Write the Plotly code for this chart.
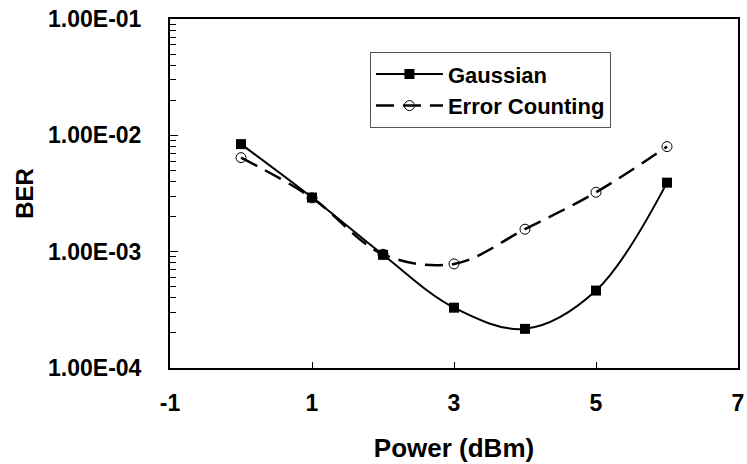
import plotly.graph_objects as go

power = [0, 1, 2, 3, 4, 5, 6]
gaussian = [8.4e-3, 2.92e-3, 9.4e-4, 3.3e-4, 2.17e-4, 4.63e-4, 3.92e-3]
error_counting = [6.43e-3, 2.9e-3, 9.5e-4, 7.85e-4, 1.56e-3, 3.24e-3, 8.0e-3]

y_tickvals = [1e-4, 1e-3, 1e-2, 1e-1]
y_ticktext = ["1.00E-04", "1.00E-03", "1.00E-02", "1.00E-01"]
x_tickvals = [-1, 1, 3, 5, 7]
x_ticktext = ["-1", "1", "3", "5", "7"]

FONT = "Liberation Sans, Arial, sans-serif"

fig = go.Figure()
fig.add_trace(go.Scatter(
    x=power, y=gaussian, name="Gaussian", mode="lines+markers",
    line=dict(color="black", width=2, shape="spline", smoothing=1),
    marker=dict(symbol="square", size=10, color="black"),
))
fig.add_trace(go.Scatter(
    x=power, y=error_counting, name="Error Counting", mode="lines+markers",
    line=dict(color="black", width=2.5, dash="18px,9px", shape="spline", smoothing=1),
    marker=dict(symbol="circle-open", size=10, color="black", line=dict(width=1)),
))

minor_vals = [m * 10 ** e for e in (-4, -3, -2) for m in range(2, 10)]

fig.update_layout(
    width=747, height=464,
    margin=dict(l=170, r=9, t=19, b=96, autoexpand=False),
    plot_bgcolor="white", paper_bgcolor="white",
    font=dict(family=FONT, color="black"),
    showlegend=True,
    legend=dict(
        x=0.352, y=0.905, xanchor="left", yanchor="top",
        bgcolor="white", bordercolor="#555555", borderwidth=1,
        font=dict(family=FONT, size=22, weight="bold", color="black"),
        itemwidth=67, tracegroupgap=0,
    ),
)
fig.update_xaxes(
    range=[-1, 7], tickvals=x_tickvals, ticktext=x_ticktext, automargin=False,
    ticks="inside", ticklen=6, tickwidth=1,
    tickcolor="black", showline=True, linecolor="black", linewidth=2, mirror=True,
    showgrid=False, zeroline=False,
    tickfont=dict(family=FONT, size=23, weight="bold"),
    ticklabelstandoff=13, ticklabeloverflow="allow",
    title=dict(text="Power (dBm)", font=dict(family=FONT, size=26, weight="bold"), standoff=24),
)
fig.update_yaxes(
    type="log", range=[-4, -1], tickvals=y_tickvals, ticktext=y_ticktext, automargin=False,
    ticks="inside", ticklen=8, tickwidth=1, tickcolor="black",
    minor=dict(ticks="inside", ticklen=6, tickwidth=1, tickcolor="black", tickvals=minor_vals, showgrid=False),
    showline=True, linecolor="black", linewidth=2, mirror=True,
    showgrid=False, zeroline=False,
    tickfont=dict(family=FONT, size=23, weight="bold"),
    ticklabelstandoff=22, ticklabeloverflow="allow",
    title=dict(text="BER", font=dict(family=FONT, size=24, weight="bold"), standoff=8),
)

fig.write_html(
    "out.html",
    config={"displayModeBar": False},
    post_script="document.body.style.margin='0';document.body.style.overflow='hidden';",
)
